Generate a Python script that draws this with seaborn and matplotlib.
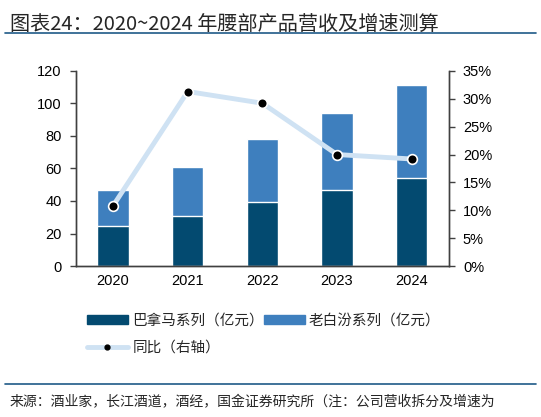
import numpy as np
import pandas as pd
import matplotlib
matplotlib.use("Agg")
import matplotlib.pyplot as plt
from matplotlib.lines import Line2D
from matplotlib.patches import Patch
from matplotlib.ticker import PercentFormatter
import seaborn as sns

# данные
years = ["2020", "2021", "2022", "2023", "2024"]
panama = [24.7, 31.0, 39.2, 46.6, 54.0]      # 巴拿马系列（亿元）
laobaifen = [21.9, 29.6, 38.9, 47.3, 57.4]   # 老白汾系列（亿元）
yoy = [10.8, 31.3, 29.2, 20.0, 19.2]         # 同比（%）

sns.set_style("white")
plt.rcParams['font.family'] = ['Noto Sans CJK SC', 'DejaVu Sans']

darkBlue = '#034A70'
midBlue = '#3E7FBE'
lineBlue = '#CFE2F3'
spineColor = '#404040'

dataSet = pd.DataFrame({'year': years, 'panama': panama, 'laobaifen': laobaifen})
dataSet['total'] = dataSet['panama'] + dataSet['laobaifen']

fig = plt.figure(figsize=(5.41, 4.17), dpi=100)
ax = fig.add_axes([0.140, 0.362, 0.690, 0.468])

# столбцы: сначала сумма, сверху нижняя часть
sns.barplot(data=dataSet, x='year', y='total', color=midBlue, width=0.42,
            saturation=1, ax=ax)
sns.barplot(data=dataSet, x='year', y='panama', color=darkBlue, width=0.42,
            saturation=1, ax=ax)
ax.set_xlim(-0.5, len(years) - 0.5)
ax.set_ylim(0, 120)
ax.set_yticks(range(0, 121, 20))
ax.set_xlabel("")
ax.set_ylabel("")

# правая ось
ax2 = ax.twinx()
xPos = np.arange(len(years))
sns.lineplot(x=xPos, y=yoy, ax=ax2, color=lineBlue, linewidth=3.5,
             marker='o', markersize=7, markerfacecolor='black',
             markeredgecolor='white', markeredgewidth=1.2)
ax2.set_ylim(0, 35)
ax2.set_yticks(range(0, 36, 5))
ax2.yaxis.set_major_formatter(PercentFormatter(decimals=0))

for a in (ax, ax2):
    a.spines['top'].set_visible(False)
    for s in ('left', 'right', 'bottom'):
        a.spines[s].set_color(spineColor)
        a.spines[s].set_linewidth(1.0)
    a.tick_params(axis='both', labelsize=10.5, colors='black', direction='out',
                  length=4, width=1, color=spineColor)
    for lbl in a.get_xticklabels() + a.get_yticklabels():
        lbl.set_family(['Liberation Sans', 'DejaVu Sans'])

ax.tick_params(axis='x', which='major', length=0, pad=6)
ax.set_xticks(np.arange(0.5, len(years) - 1, 1), minor=True)
ax.tick_params(axis='x', which='minor', length=4, width=1, color=spineColor)
ax.tick_params(axis='y', pad=6)
ax2.tick_params(axis='y', pad=6)

# легенда
handles = [
    Patch(color=darkBlue, label='巴拿马系列（亿元）'),
    Line2D([], [], color=lineBlue, linewidth=3.5, marker='o', markersize=3.5,
           markerfacecolor='black', markeredgecolor='black', label='同比（右轴）'),
    Patch(color=midBlue, label='老白汾系列（亿元）'),
]
fig.legend(handles=handles, ncol=2, loc='upper left',
           bbox_to_anchor=(0.150, 0.262), frameon=False, fontsize=10.5,
           handlelength=2.8, handleheight=0.55, handletextpad=0.3,
           columnspacing=0.0, labelspacing=0.9, borderaxespad=0)

# заголовок и подпись
fig.text(0.018, 0.965, "图表24：2020~2024 年腰部产品营收及增速测算",
         fontsize=14.5, ha='left', va='top')
fig.add_artist(Line2D([0.01, 0.99], [0.921, 0.921], color='#1F5A87', linewidth=1.2))
fig.add_artist(Line2D([0.01, 0.99], [0.079, 0.079], color='#1F5A87', linewidth=1.2))
fig.text(0.018, 0.035, "来源：酒业家，长江酒道，酒经，国金证券研究所（注：公司营收拆分及增速为",
         fontsize=10, ha='left', va='center')

plt.savefig("out.png", dpi=100)
